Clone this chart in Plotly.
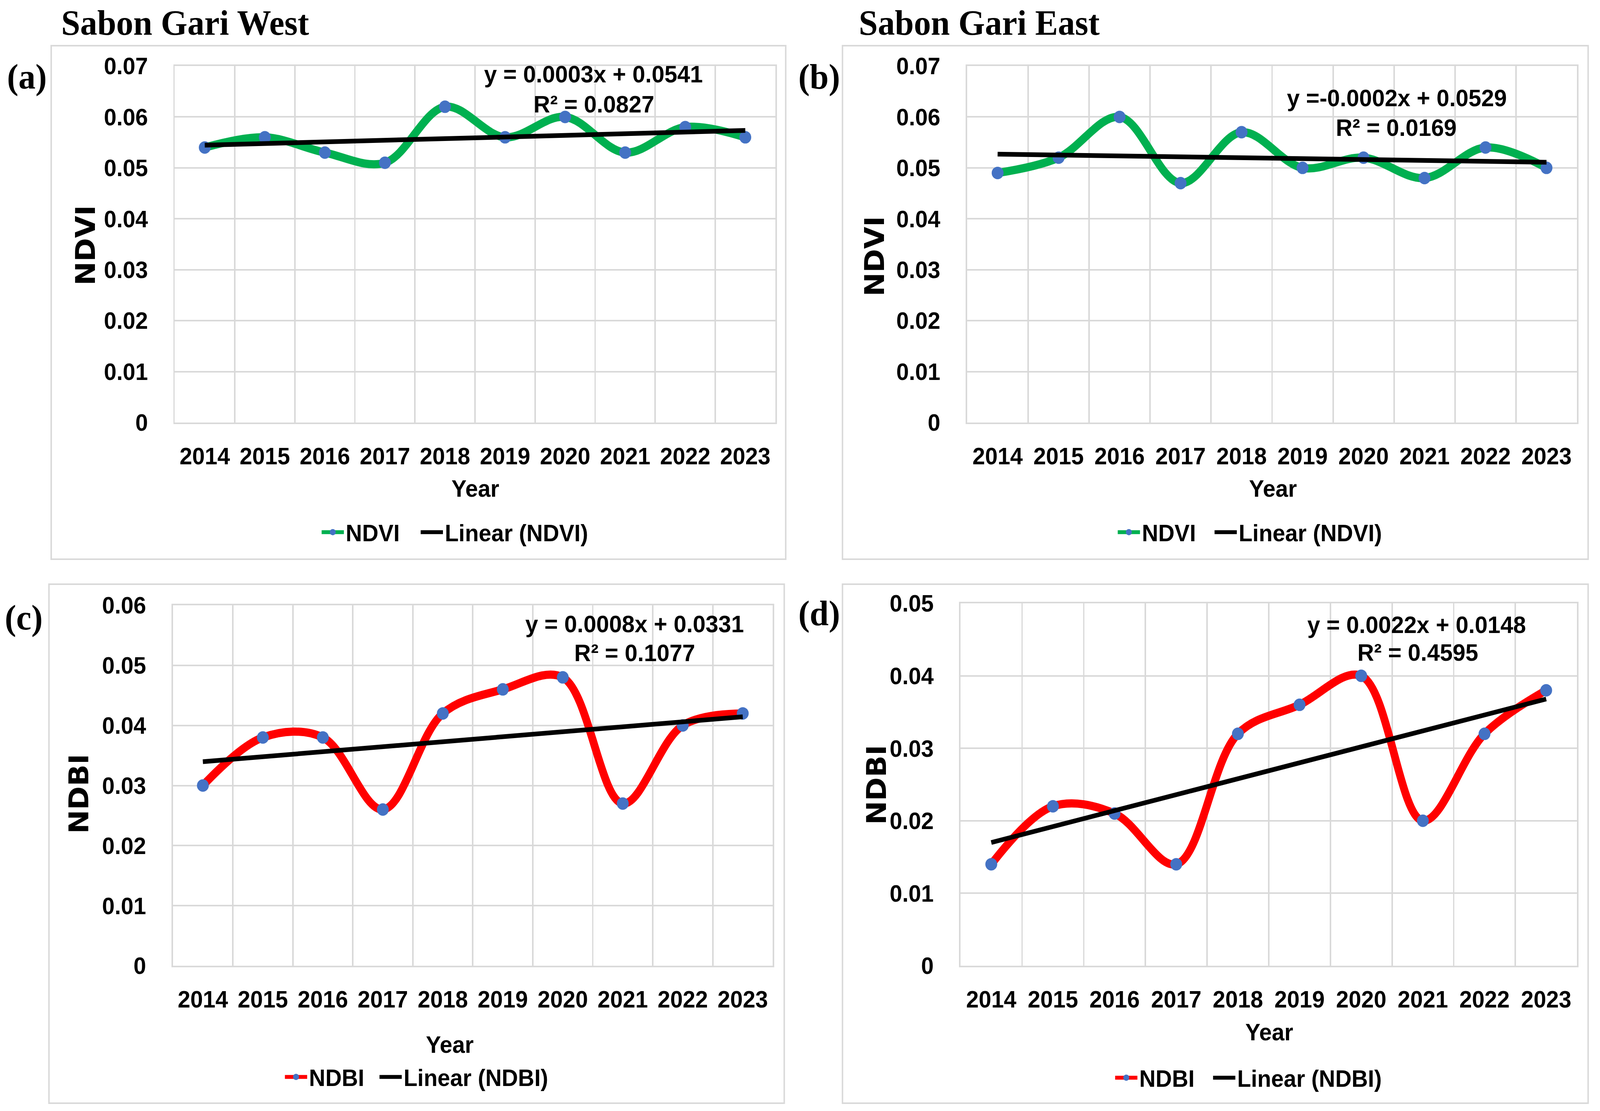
import numpy as np
import plotly.graph_objects as go

W, H = 4313, 2845

years = [2014, 2015, 2016, 2017, 2018, 2019, 2020, 2021, 2022, 2023]
ndvi_west = [0.054, 0.056, 0.053, 0.051, 0.062, 0.056, 0.060, 0.053, 0.058, 0.056]
ndvi_east = [0.049, 0.052, 0.060, 0.047, 0.057, 0.050, 0.052, 0.048, 0.054, 0.050]
ndbi_west = [0.030, 0.038, 0.038, 0.026, 0.042, 0.046, 0.048, 0.027, 0.040, 0.042]
ndbi_east = [0.014, 0.022, 0.021, 0.014, 0.032, 0.036, 0.040, 0.020, 0.032, 0.038]

series_names = ["NDVI", "NDVI", "NDBI", "NDBI"]
trend_names = ["Linear (NDVI)", "Linear (NDVI)", "Linear (NDBI)", "Linear (NDBI)"]
series_colors = ["#00B050", "#00B050", "#FF0000", "#FF0000"]
panel_labels = ["(a)", "(b)", "(c)", "(d)"]
headings = ["Sabon Gari West", "Sabon Gari East"]
equations = ["y = 0.0003x + 0.0541", "y =-0.0002x + 0.0529",
             "y = 0.0008x + 0.0331", "y = 0.0022x + 0.0148"]
r2_texts = ["R² = 0.0827", "R² = 0.0169", "R² = 0.1077", "R² = 0.4595"]
y_max = [0.07, 0.07, 0.06, 0.05]
y_step = 0.01
x_title = "Year"

data = [ndvi_west, ndvi_east, ndbi_west, ndbi_east]


def px(x):
    return x / W


def py(y):
    return 1 - y / H


plot_boxes = [
    (471, 2090, 169, 1082),
    (2607, 4251, 169, 1082),
    (466, 2083, 1550, 2473),
    (2589, 4251, 1545, 2473),
]
outer_boxes = [
    (138, 2118, 117, 1432),
    (2271, 4281, 117, 1432),
    (132, 2114, 1496, 2825),
    (2271, 4281, 1496, 2825),
]
ytitle_pos = [(230, 629), (2358, 657), (212, 2033), (2362, 2010)]
xtitle_pos = [(1281, 1251), (3431, 1251), (1212, 2675), (3421, 2643)]
eq_pos = [(1600, 190), (3765, 250), (1711, 1597), (3819, 1599)]
r2_pos = [(1601, 267), (3764, 326), (1711, 1671), (3822, 1670)]
label_pos = [(17, 196), (2150, 196), (11, 1581), (2150, 1570)]
heading_pos = [(163, 58), (2313, 58)]
legend_x = [(862, 1129), (3008, 3269), (763, 1018), (3001, 3265)]
legend_y = [1363, 1363, 2758, 2760]

GRID = "#D9D9D9"
SANS = "Liberation Sans"
FS = 61
fig = go.Figure()

xs = np.arange(1, 11)
for i in range(4):
    vals = data[i]
    slope, icpt = np.polyfit(xs, vals, 1)
    trend = slope * xs + icpt
    sfx = "" if i == 0 else str(i + 1)
    fig.add_trace(go.Scatter(
        x=years, y=vals, name=series_names[i], mode="lines+markers",
        line=dict(color=series_colors[i], width=21, shape="spline", smoothing=1.0),
        marker=dict(color="#4472C4", size=32),
        xaxis="x" + sfx, yaxis="y" + sfx, legend=f"legend{2 * i + 1}",
    ))
    fig.add_trace(go.Scatter(
        x=years, y=list(trend), name=trend_names[i], mode="lines",
        line=dict(color="black", width=12),
        xaxis="x" + sfx, yaxis="y" + sfx, legend=f"legend{2 * i + 2}",
    ))

layout = dict(
    width=W, height=H, margin=dict(l=0, r=0, t=0, b=0, pad=0, autoexpand=False),
    paper_bgcolor="white", plot_bgcolor="white",
    showlegend=True, autosize=False,
)
annotations = []
shapes = []
for i in range(4):
    sfx = "" if i == 0 else str(i + 1)
    x0, x1, yt, yb = plot_boxes[i]
    layout["xaxis" + sfx] = dict(
        domain=[px(x0), px(x1)], anchor="y" + sfx,
        range=[2013.5, 2023.5], tickmode="array", tickvals=years,
        ticktext=[str(y) for y in years], showgrid=False, zeroline=False,
        showline=True, linecolor=GRID, linewidth=4, mirror=True,
        ticks="", ticklabelstandoff=30, automargin=False,
        tickfont=dict(family=SANS, size=FS, color="black", weight="bold"),
        minor=dict(tickmode="array", tickvals=[y - 0.5 for y in years] + [years[-1] + 0.5],
                   showgrid=True, gridcolor=GRID, gridwidth=4, ticks=""),
    )
    layout["yaxis" + sfx] = dict(
        domain=[py(yb), py(yt)], anchor="x" + sfx,
        range=[0, y_max[i]], tickmode="linear", tick0=0, dtick=y_step,
        showgrid=True, gridcolor=GRID, gridwidth=4, zeroline=False,
        showline=True, linecolor=GRID, linewidth=4, mirror=True,
        ticks="", ticklabelstandoff=56, automargin=False,
        tickfont=dict(family=SANS, size=FS, color="black", weight="bold"),
    )
    for k in range(2):
        layout[f"legend{2 * i + 1 + k}"] = dict(
            orientation="h", x=px(legend_x[i][k]), y=py(legend_y[i]),
            xanchor="left", yanchor="middle",
            font=dict(family=SANS, size=FS, color="black", weight="bold"),
            bgcolor="rgba(0,0,0,0)", itemwidth=60,
        )
    bx0, bx1, byt, byb = outer_boxes[i]
    shapes.append(dict(type="rect", xref="paper", yref="paper",
                       x0=px(bx0), x1=px(bx1), y0=py(byb), y1=py(byt),
                       line=dict(color=GRID, width=4), fillcolor="rgba(0,0,0,0)",
                       layer="below"))
    tx, ty = ytitle_pos[i]
    annotations.append(dict(text=series_names[i], x=px(tx), y=py(ty), xref="paper", yref="paper",
                            textangle=-90, showarrow=False, xanchor="center", yanchor="middle",
                            font=dict(family="DejaVu Sans", size=73, color="black", weight="bold")))
    tx, ty = xtitle_pos[i]
    annotations.append(dict(text=x_title, x=px(tx), y=py(ty), xref="paper", yref="paper",
                            showarrow=False, xanchor="center", yanchor="middle",
                            font=dict(family=SANS, size=FS, color="black", weight="bold")))
    tx, ty = eq_pos[i]
    annotations.append(dict(text=equations[i], x=px(tx), y=py(ty), xref="paper", yref="paper",
                            showarrow=False, xanchor="center", yanchor="middle",
                            font=dict(family=SANS, size=FS + 1, color="black", weight="bold")))
    tx, ty = r2_pos[i]
    annotations.append(dict(text=r2_texts[i], x=px(tx), y=py(ty), xref="paper", yref="paper",
                            showarrow=False, xanchor="center", yanchor="middle",
                            font=dict(family=SANS, size=FS + 1, color="black", weight="bold")))
    tx, ty = label_pos[i]
    annotations.append(dict(text=panel_labels[i], x=px(tx), y=py(ty), xref="paper", yref="paper",
                            showarrow=False, xanchor="left", yanchor="middle",
                            font=dict(family="Liberation Serif", size=92, color="black",
                                      weight="bold")))

for j in range(2):
    tx, ty = heading_pos[j]
    annotations.append(dict(text=headings[j], x=px(tx), y=py(ty), xref="paper", yref="paper",
                            showarrow=False, xanchor="left", yanchor="middle",
                            font=dict(family="Liberation Serif", size=92, color="black",
                                      weight="bold")))

layout["annotations"] = annotations
layout["shapes"] = shapes
fig.update_layout(**layout)

# Fit the fixed-size figure exactly into the browser viewport.
fit_script = """
(function(){
  var gd = document.getElementById('{plot_id}');
  document.documentElement.style.margin = '0';
  document.documentElement.style.overflow = 'hidden';
  document.body.style.margin = '0';
  document.body.style.overflow = 'hidden';
  gd.style.position = 'fixed';
  gd.style.left = '0px';
  gd.style.top = '0px';
  gd.style.transformOrigin = '0 0';
  var sx = window.innerWidth / %d, sy = window.innerHeight / %d;
  if (Math.abs(sx - 1) > 0.002 || Math.abs(sy - 1) > 0.002) {
    gd.style.transform = 'scale(' + sx + ',' + sy + ')';
  }
})();
""" % (W, H)

fig.write_html("out.html", post_script=fit_script, config={"displayModeBar": False})
